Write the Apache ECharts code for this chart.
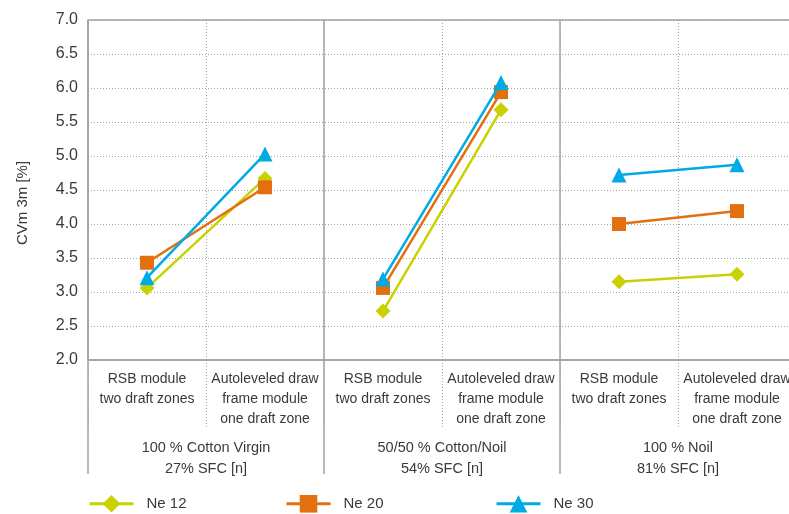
<!DOCTYPE html>
<html>
<head>
<meta charset="utf-8">
<script src="https://cdn.jsdelivr.net/npm/echarts@6/dist/echarts.min.js"></script>
<style>
html,body{margin:0;padding:0;background:#fff;}
#chart{width:789px;height:514px;}
</style>
</head>
<body>
<div id="chart"></div>
<script>
var categories = [
  'RSB module\ntwo draft zones',
  'Autoleveled draw\nframe module\none draft zone',
  'RSB module\ntwo draft zones',
  'Autoleveled draw\nframe module\none draft zone',
  'RSB module\ntwo draft zones',
  'Autoleveled draw\nframe module\none draft zone'
];
var groups = [
  '100 % Cotton Virgin\n27% SFC [n]',
  '50/50 % Cotton/Noil\n54% SFC [n]',
  '100 % Noil\n81% SFC [n]'
];
var seriesNames = ['Ne 12', 'Ne 20', 'Ne 30'];
var ne12 = [3.06, 4.67, 2.72, 5.68, 3.15, 3.26];
var ne20 = [3.43, 4.54, 3.06, 5.94, 4.00, 4.19];
var ne30 = [3.21, 5.03, 3.19, 6.08, 4.72, 4.87];
var yMin = 2.0, yMax = 7.0, yStep = 0.5;

var values = [ne12, ne20, ne30];
var colors = ['#c9d200', '#e3700f', '#00aae4'];
var symbols = ['diamond', 'rect', 'triangle'];
var symbolSizes = [15, 14, 15];
var txt = '#3a3a3a';
var gridGrey = '#a3a3a3';
var font = 'Liberation Sans, Arial, sans-serif';

var series = [];
values.forEach(function (arr, s) {
  for (var g = 0; g < groups.length; g++) {
    series.push({
      name: seriesNames[s],
      type: 'line',
      xAxisIndex: 0,
      data: arr.map(function (v, i) { return Math.floor(i / 2) === g ? v : null; }),
      connectNulls: false,
      symbol: symbols[s],
      symbolSize: symbolSizes[s],
      itemStyle: { color: colors[s] },
      lineStyle: { color: colors[s], width: 2.5 },
      emphasis: { disabled: true },
      animation: false,
      z: 3 + s
    });
  }
});

var legendLefts = [88, 285, 495];
var legends = seriesNames.map(function (n, i) {
  return {
    data: [n],
    left: legendLefts[i],
    top: 495,
    padding: 0,
    itemWidth: 44,
    itemHeight: 22,
    lineStyle: { width: 3 },
    textStyle: { fontSize: 15, color: txt, fontFamily: font, padding: [0, 0, 0, 8] },
    selectedMode: false
  };
});

var chart = echarts.init(document.getElementById('chart'), null, { renderer: 'canvas' });
chart.setOption({
  animation: false,
  backgroundColor: '#fff',
  grid: {
    left: 88, top: 20, width: 708, height: 340,
    outerBoundsMode: 'none',
    containLabel: false,
    show: true, borderColor: gridGrey, borderWidth: 1.5, backgroundColor: 'transparent'
  },
  legend: legends,
  xAxis: [
    {
      type: 'category',
      data: categories,
      position: 'bottom',
      boundaryGap: true,
      axisLine: { show: true, lineStyle: { color: gridGrey, width: 1.5 } },
      axisTick: { show: true, interval: 0, length: 67, lineStyle: { color: gridGrey, width: 1, type: [1, 2] } },
      splitLine: { show: true, interval: 0, lineStyle: { color: gridGrey, width: 1, type: [1, 2] } },
      axisLabel: { interval: 0, margin: 9, fontSize: 14, lineHeight: 20, color: txt, fontFamily: font }
    },
    {
      type: 'category',
      data: groups,
      position: 'bottom',
      boundaryGap: true,
      axisLine: { show: false },
      axisTick: { show: true, interval: 0, length: 114, lineStyle: { color: gridGrey, width: 1.5 } },
      splitLine: { show: true, interval: 0, lineStyle: { color: gridGrey, width: 1.5 } },
      axisLabel: { interval: 0, margin: 77, fontSize: 14.5, lineHeight: 21, color: txt, fontFamily: font }
    }
  ],
  yAxis: {
    type: 'value',
    min: yMin, max: yMax, interval: yStep,
    name: 'CVm 3m [%]',
    nameLocation: 'middle',
    nameRotate: 90,
    nameGap: 58,
    nameTextStyle: { fontSize: 15, color: txt, fontFamily: font, padding: [0, 26, 0, 0] },
    axisLine: { show: false },
    axisTick: { show: false },
    splitLine: { show: true, lineStyle: { color: gridGrey, width: 1, type: [1, 2] } },
    axisLabel: {
      fontSize: 16, color: txt, fontFamily: font, margin: 10,
      formatter: function (v) { return v.toFixed(1); }
    }
  },
  series: series
});
</script>
</body>
</html>
